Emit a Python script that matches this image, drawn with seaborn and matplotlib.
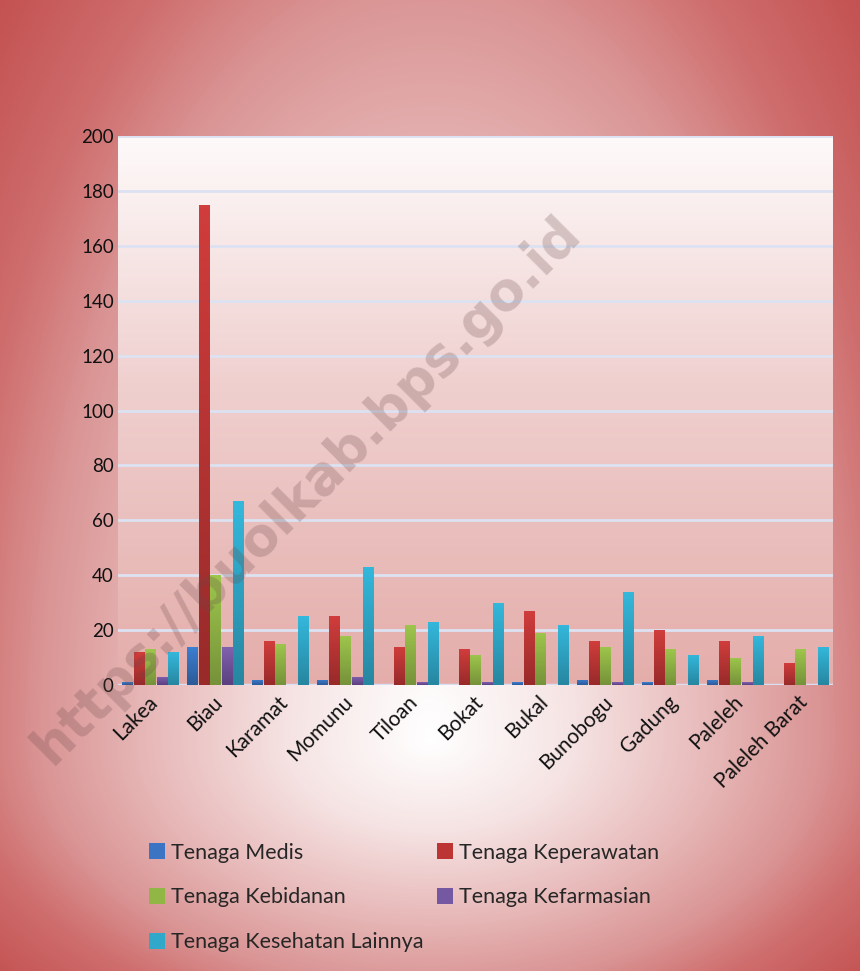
import numpy as np
import pandas as pd
import matplotlib
matplotlib.use("Agg")
import matplotlib.pyplot as plt
import matplotlib.transforms as mtransforms
import seaborn as sns
from matplotlib.colors import LinearSegmentedColormap, to_rgb

categories = ["Lakea", "Biau", "Karamat", "Momunu", "Tiloan", "Bokat", "Bukal",
              "Bunobogu", "Gadung", "Paleleh", "Paleleh Barat"]
tenaga_medis = [1, 14, 2, 2, 0, 0, 1, 2, 1, 2, 0]
tenaga_keperawatan = [12, 175, 16, 25, 14, 13, 27, 16, 20, 16, 8]
tenaga_kebidanan = [13, 40, 15, 18, 22, 11, 19, 14, 13, 10, 13]
tenaga_kefarmasian = [3, 14, 0, 3, 1, 1, 0, 1, 0, 1, 0]
tenaga_lainnya = [12, 67, 25, 43, 23, 30, 22, 34, 11, 18, 14]
series_names = ["Tenaga Medis", "Tenaga Keperawatan", "Tenaga Kebidanan",
                "Tenaga Kefarmasian", "Tenaga Kesehatan Lainnya"]
series_values = [tenaga_medis, tenaga_keperawatan, tenaga_kebidanan,
                 tenaga_kefarmasian, tenaga_lainnya]
y_ticks = [0, 20, 40, 60, 80, 100, 120, 140, 160, 180, 200]
palette = ["#3a74c2", "#bc3434", "#92b646", "#7458a2", "#2fa8ca"]
top_colors = ["#3d80d2", "#d03d3c", "#9ec64c", "#8162b0", "#34b8dc"]
bottom_colors = ["#2c5a98", "#982a2a", "#76923a", "#5a4080", "#2786a0"]

rows = []
for name, vals in zip(series_names, series_values):
    for c, v in zip(categories, vals):
        rows.append({"Kecamatan": c, "Jenis": name, "Jumlah": v})
df = pd.DataFrame(rows)

sns.set_theme(style="white")
plt.rcParams["font.family"] = ["Lato", "DejaVu Sans"]

W, H = 860, 971
fig = plt.figure(figsize=(W / 100, H / 100), dpi=100)

# figure background gradient
bg = fig.add_axes([0, 0, 1, 1], zorder=-10)
yy, xx = np.mgrid[0:H, 0:W].astype(float)
cy = 740.0
ry = np.where(yy < cy, 890.0, 290.0)
d = np.sqrt(((xx - 430) / 460.0) ** 2 + ((yy - cy) / ry) ** 2)
d = np.clip(d / 1.25, 0, 1)
bg_cmap = LinearSegmentedColormap.from_list(
    "bgc", [(0, "#ffffff"), (0.24, "#f6e4e4"), (0.48, "#e8baba"),
            (0.68, "#da9494"), (0.82, "#cf6e6e"), (1.0, "#c45252")])
bg.imshow(bg_cmap(d), aspect="auto", interpolation="bilinear")
bg.axis("off")

rect = [118 / W, 1 - 685 / H, (833 - 118) / W, (685 - 136) / H]
# plot-area gradient
pa = fig.add_axes(rect, zorder=-5)
grad = np.linspace(0, 1, 256).reshape(-1, 1)
pa_cmap = LinearSegmentedColormap.from_list(
    "pac", [(0, "#fefafa"), (0.45, "#efd0cf"), (1.0, "#e4adaa")])
pa.imshow(pa_cmap(np.repeat(grad, 2, axis=1)), aspect="auto", interpolation="bilinear")
pa.axis("off")

ax = fig.add_axes(rect)
ax.patch.set_alpha(0)
sns.barplot(data=df, x="Kecamatan", y="Jumlah", hue="Jenis", palette=palette,
            width=0.88, gap=0.08, ax=ax, legend=True, saturation=1, linewidth=0)

# vertical gradient fill for bars
g = np.linspace(0, 1, 64).reshape(-1, 1, 1)
for bar in list(ax.patches):
    h = bar.get_height()
    if h <= 0:
        continue
    fc = bar.get_facecolor()[:3]
    idx = int(np.argmin([np.sum((np.array(fc) - np.array(to_rgb(p))) ** 2) for p in palette]))
    top = np.array(to_rgb(top_colors[idx]))
    bot = np.array(to_rgb(bottom_colors[idx]))
    img = top * (1 - g) + bot * g
    x0 = bar.get_x()
    w = bar.get_width()
    im = ax.imshow(img, extent=[x0, x0 + w, 0, h], aspect="auto",
                   interpolation="bilinear", zorder=bar.get_zorder() + 0.1)
    im.set_clip_path(bar)

ax.set_ylim(0, 200)
ax.set_yticks(y_ticks)
ax.set_yticklabels([str(t) for t in y_ticks], fontsize=13.5, color="#111111")
for t in y_ticks[1:]:
    ax.axhline(t, color="#dce2f2", lw=2, zorder=0)
ax.axhline(0, color="#d9def0", lw=2.5, zorder=0)
ax.set_xlim(-0.5, len(categories) - 0.5)
ax.set_xlabel("")
ax.set_ylabel("")
for s in ax.spines.values():
    s.set_visible(False)
ax.tick_params(axis="y", length=0, pad=3)
ax.tick_params(axis="x", length=0, pad=5)
ax.set_xticks(range(len(categories)))
ax.set_xticklabels(categories, rotation=45, ha="right", rotation_mode="anchor",
                   fontsize=15, color="#111111")
shift = mtransforms.ScaledTranslation(-3 / 100, 0, fig.dpi_scale_trans)
for lab in ax.get_xticklabels():
    lab.set_transform(lab.get_transform() + shift)

handles, labels = ax.get_legend_handles_labels()
ax.legend_.remove()
order = [0, 2, 4, 1, 3]
fig.legend([handles[i] for i in order], [labels[i] for i in order],
           loc="upper left", bbox_to_anchor=(140 / W, 1 - 834 / H),
           ncol=2, frameon=False, fontsize=15.5, handlelength=0.75, handleheight=0.75,
           handletextpad=0.3, columnspacing=0.6, labelspacing=1.15, borderaxespad=0)

# watermark
fig.text(307 / W, 1 - 490 / H, "https://buolkab.bps.go.id", rotation=45,
         ha="center", va="center", fontsize=38, fontweight="bold",
         color="#6a4848", alpha=0.25, family=["DejaVu Sans"])

fig.savefig("out.png", dpi=100)
